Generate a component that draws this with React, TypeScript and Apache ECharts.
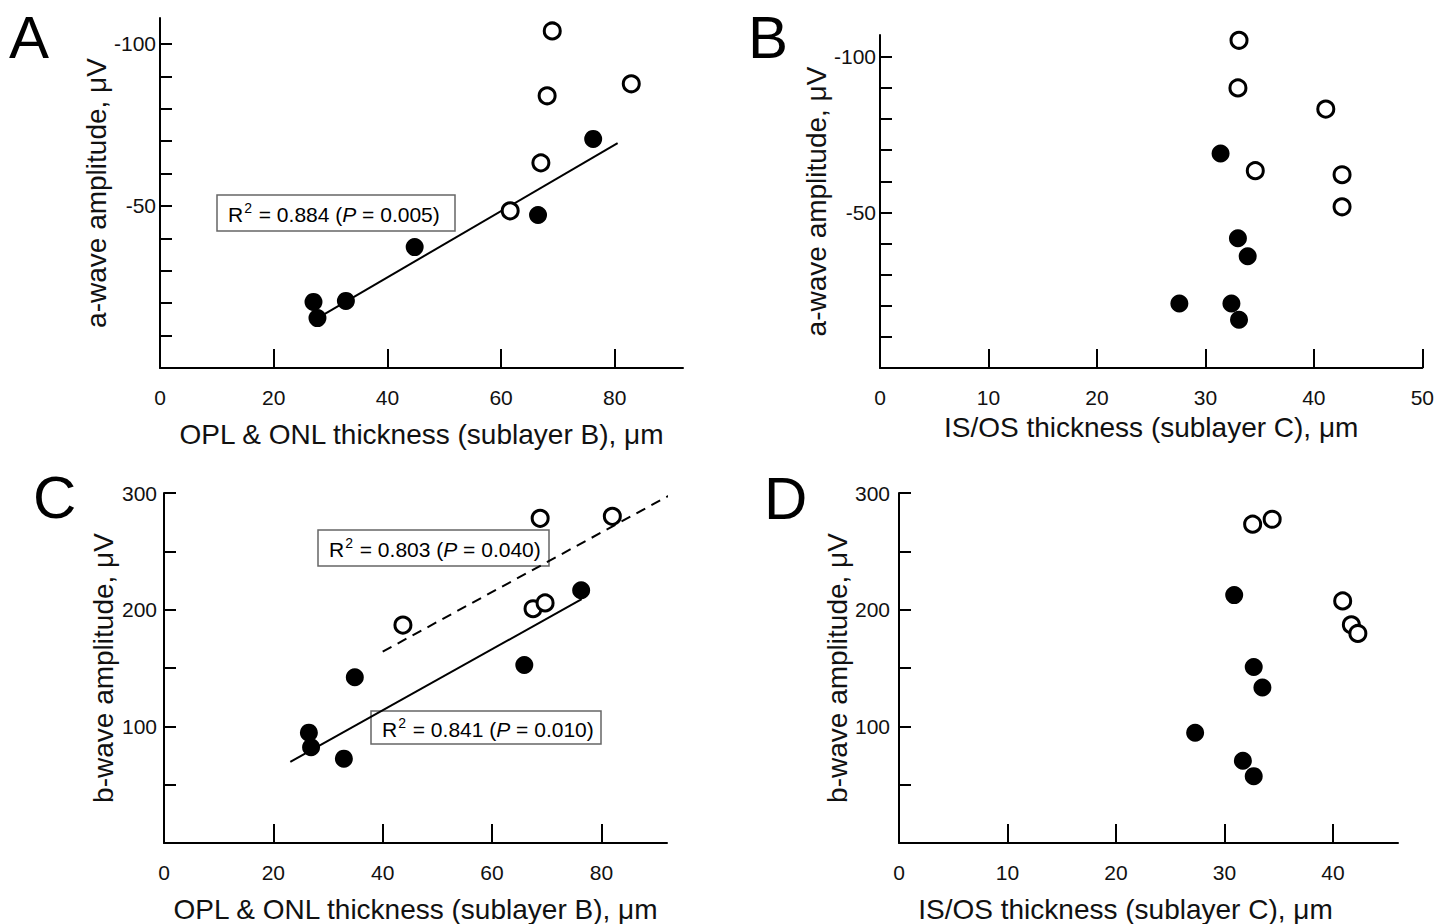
import React, { useEffect, useRef } from "react";
import * as echarts from "echarts";

// ---------- Data ----------
// Panel A: a-wave amplitude vs OPL & ONL thickness
const aOpenX = [69.0, 82.9, 68.1, 67.0, 61.6];
const aOpenY = [-104.0, -87.7, -84.0, -63.3, -48.5];
const aFilledX = [76.2, 66.5, 44.8, 27.0, 32.7, 27.7];
const aFilledY = [-70.7, -47.2, -37.3, -20.4, -20.7, -15.4];
const aFitX = [28.7, 80.5];
const aFitY = [-16.4, -69.4];

// Panel B: a-wave amplitude vs IS/OS thickness
const bOpenX = [33.1, 33.0, 41.1, 34.6, 42.6, 42.6];
const bOpenY = [-105.3, -90.0, -83.2, -63.4, -62.1, -51.8];
const bFilledX = [31.4, 33.0, 33.9, 27.6, 32.4, 33.1];
const bFilledY = [-68.9, -41.7, -35.9, -20.7, -20.7, -15.5];

// Panel C: b-wave amplitude vs OPL & ONL thickness
const cOpenX = [68.8, 82.0, 43.7, 67.5, 69.7];
const cOpenY = [278.3, 280.0, 186.8, 200.8, 205.8];
const cFilledX = [76.3, 65.9, 34.9, 26.5, 26.9, 32.9];
const cFilledY = [216.7, 152.6, 142.1, 94.6, 82.1, 72.3];
const cSolidFitX = [23.1, 76.4];
const cSolidFitY = [69.6, 209.0];
const cDashFitX = [40.0, 93.9];
const cDashFitY = [164.0, 301.7];

// Panel D: b-wave amplitude vs IS/OS thickness
const dOpenX = [32.6, 34.4, 40.9, 41.7, 42.3];
const dOpenY = [273.3, 277.5, 207.5, 187.0, 179.6];
const dFilledX = [30.9, 32.7, 33.5, 27.3, 31.7, 32.7];
const dFilledY = [212.5, 150.9, 133.3, 94.5, 70.5, 57.3];

// Tick values
const xTicksB = [20, 40, 60, 80];
const xLabelsB = [0, 20, 40, 60, 80];
const xTicksC = [10, 20, 30, 40, 50];
const xLabelsC = [0, 10, 20, 30, 40, 50];
const xTicksD = [10, 20, 30, 40];
const xLabelsD = [0, 10, 20, 30, 40];
const aWaveTicks = [-100, -90, -80, -70, -60, -50, -40, -30, -20, -10];
const aWaveLabels = [-100, -50];
const bWaveTicks = [50, 100, 150, 200, 250, 300];
const bWaveLabels = [100, 200, 300];

// Texts
const xTitleB = "OPL & ONL thickness (sublayer B), μm";
const xTitleC = "IS/OS thickness (sublayer C), μm";
const yTitleA = "a-wave amplitude, μV";
const yTitleB = "b-wave amplitude, μV";
const statA = ["0.884", "0.005"];
const statCdash = ["0.803", "0.040"];
const statCsolid = ["0.841", "0.010"];
const panelLetters = ["A", "B", "C", "D"];

const FONT = "'Liberation Sans', Arial, Helvetica, sans-serif";
const INK = "#111";

const zip = (xs: number[], ys: number[]) => xs.map((x, i) => [x, ys[i]]);

function xAxisOf(idx: number, max: number, ticks: number[], labels: number[], name: string, gap: number, padRight = 0) {
  return {
    type: "value",
    gridIndex: idx,
    min: 0,
    max,
    name,
    nameLocation: "middle",
    nameGap: gap,
    nameTextStyle: { fontFamily: FONT, fontSize: 28, color: INK, padding: [0, padRight, 0, 0] },
    axisLine: { show: true, lineStyle: { color: "#000", width: 2 } },
    axisTick: { show: true, inside: true, length: 19, customValues: ticks, lineStyle: { color: "#000", width: 2 } },
    axisLabel: { show: true, customValues: labels, margin: 19, fontFamily: FONT, fontSize: 21, color: INK },
    splitLine: { show: false },
  };
}

function yAxisOf(idx: number, min: number, max: number, inverse: boolean, ticks: number[], labels: number[], name: string, gap: number, lblMargin: number) {
  return {
    type: "value",
    gridIndex: idx,
    min,
    max,
    inverse,
    name,
    nameLocation: "middle",
    nameGap: gap,
    nameTextStyle: { fontFamily: FONT, fontSize: 28, color: INK },
    axisLine: { show: true, lineStyle: { color: "#000", width: 2 } },
    axisTick: { show: true, inside: true, length: 12, customValues: ticks, lineStyle: { color: "#000", width: 2 } },
    axisLabel: { show: true, customValues: labels, margin: lblMargin, fontFamily: FONT, fontSize: 21, color: INK },
    splitLine: { show: false },
  };
}

function openSeries(idx: number, xs: number[], ys: number[]) {
  return {
    type: "scatter",
    xAxisIndex: idx,
    yAxisIndex: idx,
    symbol: "circle",
    symbolSize: 16,
    itemStyle: { color: "#fff", borderColor: "#000", borderWidth: 3, opacity: 1 },
    data: zip(xs, ys),
    z: 5,
  };
}

function filledSeries(idx: number, xs: number[], ys: number[]) {
  return {
    type: "scatter",
    xAxisIndex: idx,
    yAxisIndex: idx,
    symbol: "circle",
    symbolSize: 18,
    itemStyle: { color: "#000", opacity: 1 },
    data: zip(xs, ys),
    z: 5,
  };
}

function fitSeries(idx: number, xs: number[], ys: number[], dashed: boolean) {
  return {
    type: "line",
    xAxisIndex: idx,
    yAxisIndex: idx,
    showSymbol: false,
    symbol: "none",
    clip: false,
    lineStyle: { color: "#000", width: 2, type: dashed ? [10, 7] : "solid" },
    data: zip(xs, ys),
    z: 2,
  };
}

function statBox(x: number, y: number, w: number, h: number, vals: string[]) {
  return {
    type: "group",
    children: [
      {
        type: "rect",
        shape: { x, y, width: w, height: h },
        style: { fill: "#fff", stroke: "#666", lineWidth: 1.5 },
      },
      {
        type: "text",
        x: x + 11,
        y: y + h / 2,
        style: {
          text: `{n|R}{s|2}{n| = ${vals[0]} (}{i|P}{n| = ${vals[1]})}`,
          verticalAlign: "middle",
          align: "left",
          rich: {
            n: { fontFamily: FONT, fontSize: 21, color: INK, lineHeight: 24, verticalAlign: "bottom" },
            i: { fontFamily: FONT, fontSize: 21, fontStyle: "italic", color: INK, lineHeight: 24, verticalAlign: "bottom" },
            s: { fontFamily: FONT, fontSize: 14, color: INK, lineHeight: 24, verticalAlign: "top", padding: [0, 1, 0, 1] },
          },
        },
        z: 10,
      },
    ],
  };
}

function letter(x: number, y: number, t: string) {
  return {
    type: "text",
    x,
    y,
    style: {
      text: t,
      fontFamily: FONT,
      fontSize: 60,
      fill: "#000",
      align: "left",
      verticalAlign: "middle",
    },
  };
}

export default function App() {
  const ref = useRef<HTMLDivElement>(null);
  useEffect(() => {
    if (!ref.current) return;
    const chart = echarts.init(ref.current, undefined, { renderer: "svg" });
    const option = {
      animation: false,
      backgroundColor: "#fff",
      grid: [
        { left: 160, top: 18, width: 523, height: 350 },
        { left: 880, top: 35, width: 552, height: 333 },
        { left: 164, top: 493, width: 503, height: 350 },
        { left: 899, top: 493, width: 499, height: 350 },
      ],
      xAxis: [
        xAxisOf(0, 92, xTicksB, xLabelsB, xTitleB, 52),
        xAxisOf(1, 50, xTicksC, xLabelsC, xTitleC, 45),
        xAxisOf(2, 92, xTicksB, xLabelsB, xTitleB, 52),
        xAxisOf(3, 46, xTicksD, xLabelsD, xTitleC, 52, 46),
      ],
      yAxis: [
        yAxisOf(0, -108, 0, true, aWaveTicks, aWaveLabels, yTitleA, 42, 4),
        yAxisOf(1, -107, 0, true, aWaveTicks, aWaveLabels, yTitleA, 48, 4),
        yAxisOf(2, 0, 300, false, bWaveTicks, bWaveLabels, yTitleB, 47, 7),
        yAxisOf(3, 0, 300, false, bWaveTicks, bWaveLabels, yTitleB, 43, 9),
      ],
      series: [
        fitSeries(0, aFitX, aFitY, false),
        openSeries(0, aOpenX, aOpenY),
        filledSeries(0, aFilledX, aFilledY),
        openSeries(1, bOpenX, bOpenY),
        filledSeries(1, bFilledX, bFilledY),
        fitSeries(2, cSolidFitX, cSolidFitY, false),
        fitSeries(2, cDashFitX, cDashFitY, true),
        openSeries(2, cOpenX, cOpenY),
        filledSeries(2, cFilledX, cFilledY),
        openSeries(3, dOpenX, dOpenY),
        filledSeries(3, dFilledX, dFilledY),
      ],
      graphic: [
        letter(9, 37, panelLetters[0]),
        letter(748, 37, panelLetters[1]),
        letter(33, 497, panelLetters[2]),
        letter(764, 498, panelLetters[3]),
        statBox(217, 195, 238, 36, statA),
        statBox(318, 530, 231, 36, statCdash),
        statBox(371, 711, 230, 33, statCsolid),
      ],
    };
    chart.setOption(option as any);
    return () => chart.dispose();
  }, []);
  return (
    <div
      ref={ref}
      style={{ position: "absolute", left: 0, top: 0, width: 1437, height: 924, background: "#fff" }}
    />
  );
}
